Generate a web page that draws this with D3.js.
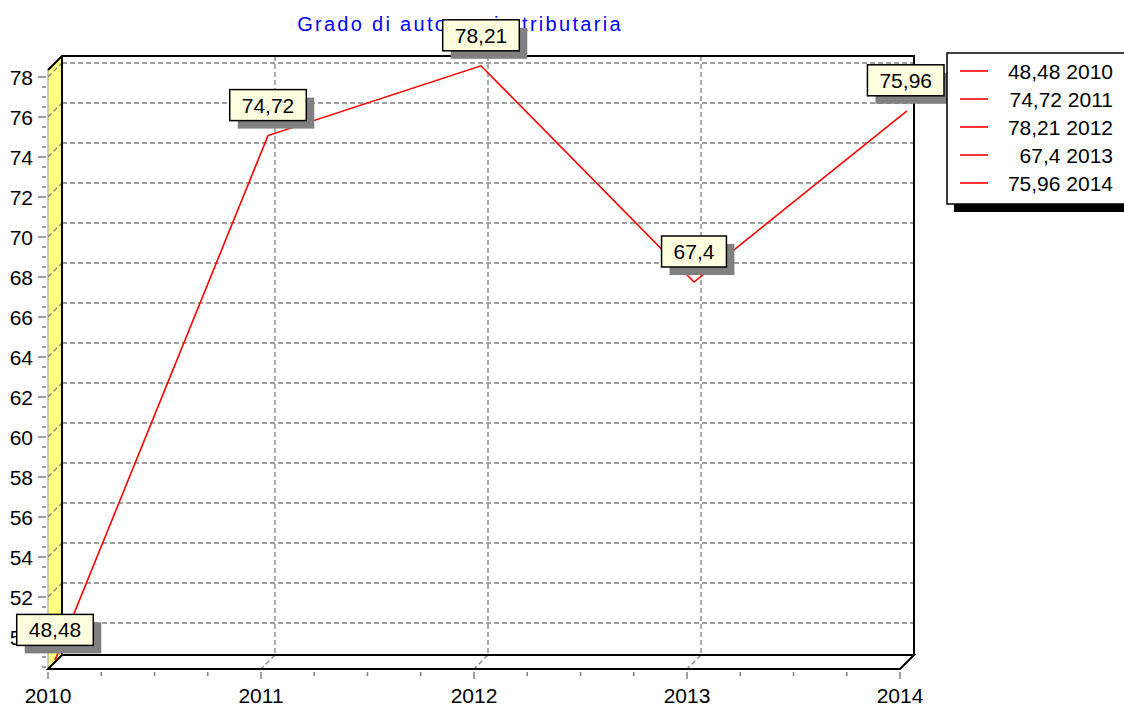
<!DOCTYPE html>
<html>
<head>
<meta charset="utf-8">
<script src="https://cdn.jsdelivr.net/npm/d3@7"></script>
<style>
  body { margin: 0; background: #fff; }
  svg { display: block; font-family: "Liberation Sans", Arial, sans-serif; }
</style>
</head>
<body>
<svg width="1124" height="707"></svg>
<script>
// Grado di autonomia tributaria, 2010-2014
const years = [2010, 2011, 2012, 2013, 2014];
const values = [48.48, 74.72, 78.21, 67.4, 75.96];
const yTicks = d3.range(50, 79, 2);
const title = 'Grado di autonomia tributaria';

const fmt = v => String(v).replace('.', ',');
const svg = d3.select('svg');
const D = 14;               // 3D depth offset
const x = d3.scaleLinear().domain([2010, 2014]).range([48, 900]);
const y = d3.scaleLinear().domain([48.4, 78.35]).range([669, 70]);
const gray = '#808080';
const x0 = x(2010), x1 = x(2014), yb = y.range()[0], yt = y.range()[1];

// left wall (yellow)
svg.append('path')
  .attr('d', `M${x0},${yb} L${x0},${yt} L${x0 + D},${yt - D} L${x0 + D},${yb - D} Z`)
  .attr('fill', '#ffff80').attr('stroke', 'none');
svg.append('line').attr('x1', x0).attr('y1', yt).attr('x2', x0).attr('y2', yb)
  .attr('stroke', '#999').attr('stroke-width', 1);

// grid on back wall, left wall and floor
const grid = svg.append('g').attr('stroke', gray).attr('stroke-dasharray', '5,3').attr('stroke-width', 1.3);
yTicks.forEach(t => {
  grid.append('line').attr('x1', x0 + D).attr('x2', x1 + D).attr('y1', y(t) - D).attr('y2', y(t) - D);
  grid.append('line').attr('x1', x0).attr('x2', x0 + D).attr('y1', y(t)).attr('y2', y(t) - D);
});
years.forEach(t => {
  grid.append('line').attr('x1', x(t) + D).attr('x2', x(t) + D).attr('y1', yt - D).attr('y2', yb - D);
  grid.append('line').attr('x1', x(t) + D).attr('x2', x(t)).attr('y1', yb - D).attr('y2', yb);
});

// frame edges
const frame = svg.append('g').attr('stroke', '#000').attr('stroke-width', 2).attr('fill', 'none');
frame.append('path').attr('d', `M${x0},${yt} L${x0 + D},${yt - D} L${x1 + D},${yt - D} L${x1 + D},${yb - D}`);
frame.append('line').attr('x1', x0 + D).attr('x2', x0 + D).attr('y1', yt - D).attr('y2', yb - D);
frame.append('path').attr('d', `M${x0 + D},${yb - D} L${x1 + D},${yb - D} L${x1},${yb} L${x0},${yb} Z`);

// y axis ticks + labels
yTicks.forEach(t => {
  svg.append('line').attr('x1', x0 - 10).attr('x2', x0 - 2).attr('y1', y(t)).attr('y2', y(t))
    .attr('stroke', gray).attr('stroke-width', 1.5);
});
d3.range(48.5, 78.3, 0.5).filter(t => t % 2 !== 0).forEach(t => {
  svg.append('line').attr('x1', x0 - 6).attr('x2', x0 - 2).attr('y1', y(t)).attr('y2', y(t))
    .attr('stroke', gray).attr('stroke-width', 1.5);
});
svg.append('g').selectAll('text').data(yTicks).enter().append('text')
  .attr('x', 33).attr('y', d => y(d)).attr('dy', '0.36em').attr('text-anchor', 'end')
  .attr('font-size', 21).text(d => d);

// x axis ticks + labels
d3.range(2010, 2014.01, 0.25).forEach(t => {
  const major = Math.abs(t - Math.round(t)) < 1e-6;
  svg.append('line').attr('x1', x(t)).attr('x2', x(t)).attr('y1', yb + 3).attr('y2', yb + (major ? 10 : 7))
    .attr('stroke', gray).attr('stroke-width', 1.5);
});
svg.append('g').selectAll('text').data(years).enter().append('text')
  .attr('x', d => x(d)).attr('y', 703).attr('text-anchor', 'middle')
  .attr('font-size', 21).text(d => d);

// title
svg.append('text').attr('x', 460).attr('y', 31).attr('text-anchor', 'middle')
  .attr('font-size', 20).attr('letter-spacing', 2.3).attr('fill', '#0000ff').text(title);

// series line at half depth
const line = d3.line().x((d, i) => x(years[i]) + D / 2).y(d => y(d) - D / 2);
svg.append('path').datum(values).attr('d', line)
  .attr('fill', 'none').attr('stroke', '#ff0000').attr('stroke-width', 1.6);

// value marks
const marks = svg.append('g');
values.forEach((v, i) => {
  const px = x(years[i]) + D / 2, py = y(v) - D / 2;
  const g_ = marks.append('g');
  const t = g_.append('text').attr('font-size', 21).text(fmt(v));
  const w = t.node().getComputedTextLength() + 24, h = 31;
  const bx = Math.min(px - w / 2, 944 - w), by = py - 15 - h;
  g_.insert('rect', 'text').attr('x', bx + 8).attr('y', by + 8).attr('width', w).attr('height', h).attr('fill', gray);
  g_.insert('rect', 'text').attr('x', bx).attr('y', by).attr('width', w).attr('height', h)
    .attr('fill', '#ffffe0').attr('stroke', '#000').attr('stroke-width', 1.5);
  t.attr('x', bx + w / 2).attr('y', by + h / 2).attr('dy', '0.36em').attr('text-anchor', 'middle');
});

// legend
const lg = svg.append('g');
lg.append('rect').attr('x', 954).attr('y', 61).attr('width', 180).attr('height', 151).attr('fill', '#000');
lg.append('rect').attr('x', 947).attr('y', 53).attr('width', 180).attr('height', 151)
  .attr('fill', '#fff').attr('stroke', '#000').attr('stroke-width', 1.5);
values.forEach((v, i) => {
  const ly = 71 + i * 28;
  lg.append('line').attr('x1', 960).attr('x2', 988).attr('y1', ly).attr('y2', ly)
    .attr('stroke', '#ff0000').attr('stroke-width', 1.6);
  lg.append('text').attr('x', 1113).attr('y', ly).attr('dy', '0.36em').attr('text-anchor', 'end')
    .attr('font-size', 21).text(`${fmt(v)} ${years[i]}`);
});
</script>
</body>
</html>
